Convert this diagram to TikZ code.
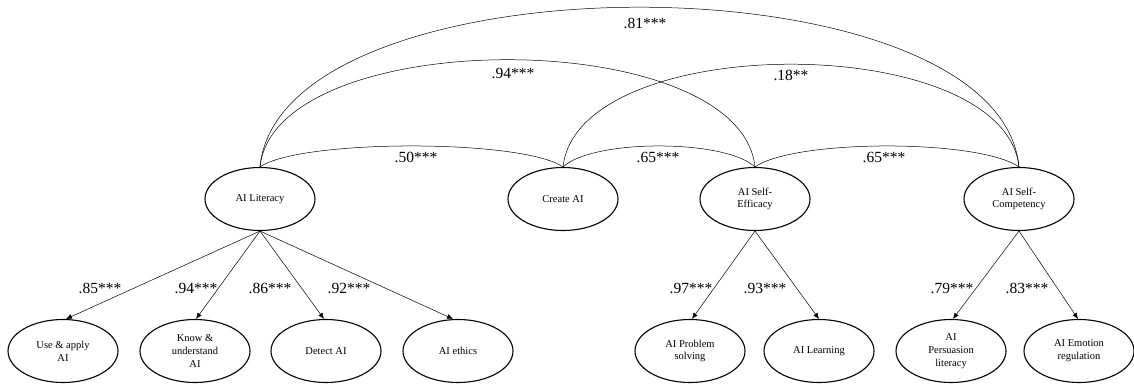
\documentclass[tikz,border=0pt]{standalone}
\usepackage{fontspec}
\setmainfont{Liberation Serif}
\usetikzlibrary{shapes.geometric,arrows.meta}
\begin{document}
\begin{tikzpicture}[x=1pt,y=-1pt,
  lat/.style={ellipse,draw,line width=1.1pt,minimum width=110pt,minimum height=63pt,inner sep=0pt,align=center,font=\fontsize{10.5}{12.8}\selectfont},
  coef/.style={font=\fontsize{15.5}{18}\selectfont,inner sep=0pt},
  cov/.style={line width=0.5pt},
  load/.style={line width=0.5pt,-{Latex[length=6pt,width=5pt]}}]
\useasboundingbox (0,0) rectangle (1134,385);
% latent factors
\node[lat] (lit) at (260,199) {AI Literacy};
\node[lat] (cre) at (563,199) {Create AI};
\node[lat] (eff) at (755,199) {AI Self-\\Efficacy};
\node[lat] (com) at (1019,199) {AI Self-\\Competency};
% indicators
\node[lat] (use) at (63,351) {Use \& apply\\AI};
\node[lat] (kno) at (195,351) {Know \&\\understand\\AI};
\node[lat] (det) at (326,351) {Detect AI};
\node[lat] (eth) at (458,351) {AI ethics};
\node[lat] (pro) at (690,351) {AI Problem\\solving};
\node[lat] (lea) at (819,351) {AI Learning};
\node[lat] (per) at (951,351) {AI\\Persuasion\\literacy};
\node[lat] (emo) at (1079,351) {AI Emotion\\regulation};
% loadings
\draw[load] (lit.south) -- ([xshift=3pt]use.north);
\draw[load] (lit.south) -- ([xshift=1pt]kno.north);
\draw[load] (lit.south) -- ([xshift=-2pt]det.north);
\draw[load] (lit.south) -- ([xshift=-5pt]eth.north);
\draw[load] (eff.south) -- ([xshift=2pt]pro.north);
\draw[load] (eff.south) -- (lea.north);
\draw[load] (com.south) -- ([xshift=2pt]per.north);
\draw[load] (com.south) -- ([xshift=-1pt]emo.north);
% covariances
\draw[cov] (lit.north) .. controls +(20,-213) and +(-20,-213) .. (com.north);
\draw[cov] (lit.north) .. controls +(15,-143) and +(-15,-143) .. (eff.north);
\draw[cov] (cre.north) .. controls +(15,-137) and +(-15,-137) .. (com.north);
\draw[cov] (lit.north) .. controls +(40,-28) and +(-40,-28) .. (cre.north);
\draw[cov] (cre.north) .. controls +(30,-28) and +(-30,-28) .. (eff.north);
\draw[cov] (eff.north) .. controls +(40,-28) and +(-40,-28) .. (com.north);
% coefficient labels
\node[coef] (c81) at (645,23) {.81***};
\node[coef] (c94) at (513,73) {.94***};
\node[coef] (c18) at (791,75) {.18**};
\node[coef] (c50) at (416,157) {.50***};
\node[coef] (c65a) at (658,157) {.65***};
\node[coef] (c65b) at (884,157) {.65***};
\node[coef] (l85) at (100,288) {.85***};
\node[coef] (l94) at (196,288) {.94***};
\node[coef] (l86) at (270,288) {.86***};
\node[coef] (l92) at (349,288) {.92***};
\node[coef] (l97) at (691,288) {.97***};
\node[coef] (l93) at (765,288) {.93***};
\node[coef] (l79) at (952,288) {.79***};
\node[coef] (l83) at (1027,288) {.83***};
\end{tikzpicture}
\end{document}
